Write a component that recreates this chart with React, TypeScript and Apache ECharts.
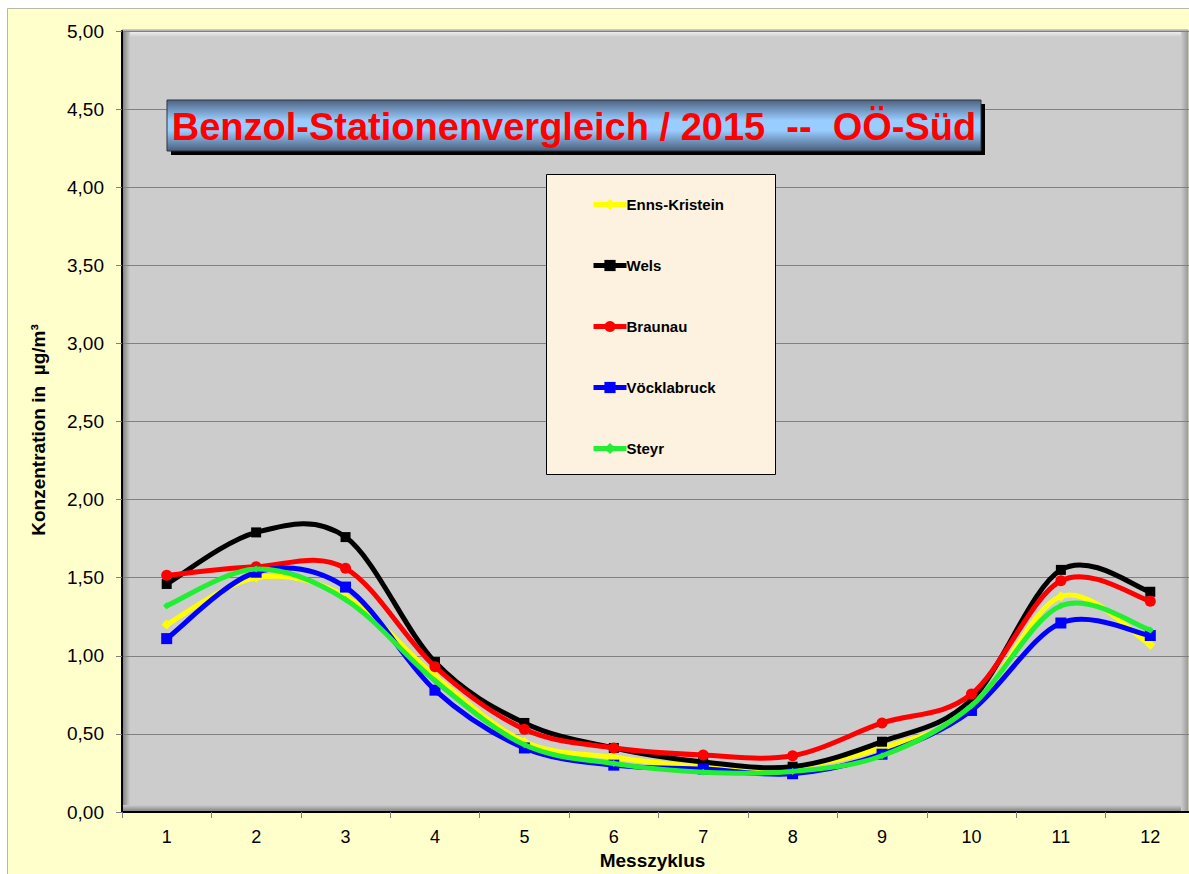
import React, { useEffect, useRef } from "react";
import * as echarts from "echarts";

const categories = ["1", "2", "3", "4", "5", "6", "7", "8", "9", "10", "11", "12"];

const ennsKristein = [1.2, 1.5, 1.38, 0.87, 0.45, 0.35, 0.29, 0.29, 0.41, 0.66, 1.38, 1.07];
const wels = [1.46, 1.79, 1.76, 0.96, 0.57, 0.41, 0.32, 0.29, 0.45, 0.72, 1.55, 1.41];
const braunau = [1.515, 1.57, 1.56, 0.93, 0.53, 0.41, 0.365, 0.36, 0.57, 0.755, 1.48, 1.35];
const voecklabruck = [1.11, 1.535, 1.44, 0.78, 0.41, 0.3, 0.275, 0.245, 0.37, 0.65, 1.21, 1.13];
const steyr = [1.32, 1.555, 1.36, 0.84, 0.43, 0.31, 0.255, 0.26, 0.36, 0.68, 1.32, 1.165];

const seriesNames = ["Enns-Kristein", "Wels", "Braunau", "Vöcklabruck", "Steyr"];
const seriesColors = ["#FFFF00", "#000000", "#FF0000", "#0000FF", "#22EE33"];
const seriesSymbols = ["diamond", "rect", "circle", "rect", "diamond"];
const seriesSymbolSizes = [10, 10, 11, 11, 7];
const seriesWidths = [5, 5, 5, 5, 5];
const seriesData = [ennsKristein, wels, braunau, voecklabruck, steyr];

const titleText = "Benzol-Stationenvergleich / 2015  --  OÖ-Süd";
const yAxisTitle = "Konzentration in  µg/m³";
const xAxisTitle = "Messzyklus";

const FONT = "'Liberation Sans', Arial, Helvetica, sans-serif";

export default function App() {
  const ref = useRef<HTMLDivElement>(null);

  useEffect(() => {
    if (!ref.current) return;
    const chart = echarts.init(ref.current, undefined, { renderer: "svg" });

    const vGrad = (stops: [number, string][]) =>
      new echarts.graphic.LinearGradient(0, 0, 0, 1, stops.map(([offset, color]) => ({ offset, color })));
    const hGrad = (stops: [number, string][]) =>
      new echarts.graphic.LinearGradient(0, 0, 1, 0, stops.map(([offset, color]) => ({ offset, color })));

    // Excel-like spline (control points at 1/6 of neighbour chord), drawn through the axes' scales
    const makeCurveSeries = (s: number) => ({
      name: "__curve_" + s,
      type: "custom",
      silent: true,
      z: 2 + s * 0.1,
      data: seriesData[s].map((v, k) => [k, v]),
      encode: { x: 0, y: 1 },
      renderItem: (params: any, api: any) => {
        if (params.dataIndex !== 0) return null;
        const vals = seriesData[s];
        const n = vals.length;
        const pts = vals.map((v, k) => api.coord([k, v]));
        let d = `M${pts[0][0]},${pts[0][1]}`;
        for (let k = 0; k < n - 1; k++) {
          const p0 = pts[Math.max(k - 1, 0)];
          const p1 = pts[k];
          const p2 = pts[k + 1];
          const p3 = pts[Math.min(k + 2, n - 1)];
          const c1x = p1[0] + (p2[0] - p0[0]) / 6;
          const c1y = p1[1] + (p2[1] - p0[1]) / 6;
          const c2x = p2[0] - (p3[0] - p1[0]) / 6;
          const c2y = p2[1] - (p3[1] - p1[1]) / 6;
          d += ` C${c1x},${c1y} ${c2x},${c2y} ${p2[0]},${p2[1]}`;
        }
        return {
          type: "path",
          shape: { pathData: d },
          style: {
            stroke: seriesColors[s],
            lineWidth: seriesWidths[s],
            fill: "none",
            lineJoin: "round",
            lineCap: "round",
          },
        };
      },
    });

    const markerSeries = (s: number) => ({
      name: seriesNames[s],
      type: "line",
      data: seriesData[s],
      symbol: seriesSymbols[s],
      symbolSize: seriesSymbolSizes[s],
      showSymbol: true,
      lineStyle: { color: seriesColors[s], width: seriesWidths[s], opacity: 0 },
      itemStyle: { color: seriesColors[s], borderColor: seriesColors[s], borderWidth: 0 },
      z: 2.05 + s * 0.1,
      emphasis: { disabled: true },
    });

    const series: any[] = [];
    seriesNames.forEach((_, s) => {
      series.push(makeCurveSeries(s));
      series.push(markerSeries(s));
    });

    const option: any = {
      animation: false,
      textStyle: { fontFamily: FONT },
      grid: {
        left: 122,
        top: 31,
        width: 1073,
        bottom: 62,
        containLabel: false,
        outerBoundsMode: "none",
      },
      legend: {
        show: true,
        orient: "vertical",
        left: 591,
        top: 197,
        itemWidth: 33,
        itemHeight: 14,
        itemGap: 46,
        padding: 0,
        z: 10,
        lineStyle: { width: 5, opacity: 1 },
        textStyle: {
          fontFamily: FONT,
          fontSize: 15,
          fontWeight: "bold",
          color: "#000",
          padding: [0, 0, 0, -5],
        },
        data: seriesNames.map((name, s) => ({
          name,
          lineStyle: { color: seriesColors[s], width: 5, opacity: 1 },
        })),
      },
      xAxis: {
        type: "category",
        data: categories,
        boundaryGap: true,
        name: xAxisTitle,
        nameLocation: "middle",
        nameGap: 36,
        nameTextStyle: {
          fontFamily: FONT,
          fontSize: 19,
          fontWeight: "bold",
          color: "#000",
          padding: [0, 12, 0, 0],
        },
        axisLine: { show: true, lineStyle: { color: "#000", width: 2 } },
        axisTick: { show: true, length: 6, lineStyle: { color: "#808080", width: 1 } },
        axisLabel: { fontFamily: FONT, fontSize: 18, color: "#000", margin: 16 },
        splitLine: { show: false },
      },
      yAxis: {
        type: "value",
        min: 0,
        max: 5,
        interval: 0.5,
        axisLine: { show: true, lineStyle: { color: "#000", width: 2 } },
        axisTick: { show: true, length: 6, lineStyle: { color: "#808080", width: 1 } },
        axisLabel: {
          fontFamily: FONT,
          fontSize: 19,
          color: "#000",
          margin: 18,
          formatter: (v: number) => v.toFixed(2).replace(".", ","),
        },
        splitLine: { show: true, lineStyle: { color: "#808080", width: 1 } },
      },
      graphic: [
        {
          type: "rect",
          z: -3,
          shape: { x: 7.5, y: 8.5, width: 1300, height: 1000 },
          style: { fill: "#FFFFCC", stroke: "#B8B8A8", lineWidth: 1 },
        },
        {
          type: "rect",
          z: -2,
          shape: { x: 122, y: 30, width: 1066, height: 782 },
          style: { fill: "#CCCCCC", stroke: "#9A9A9A", lineWidth: 1 },
        },
        {
          type: "rect",
          z: -1,
          shape: { x: 123, y: 31, width: 1064, height: 6 },
          style: { fill: vGrad([[0, "#F4F4F4"], [1, "#CCCCCC"]]) },
        },
        {
          type: "rect",
          z: -1,
          shape: { x: 122, y: 31, width: 8, height: 781 },
          style: { fill: hGrad([[0, "#7A7A7A"], [1, "#CCCCCC"]]) },
        },
        {
          type: "rect",
          z: -1,
          shape: { x: 122, y: 805, width: 1066, height: 7 },
          style: { fill: vGrad([[0, "#CCCCCC"], [1, "#7A7A7A"]]) },
        },
        {
          type: "rect",
          z: -1,
          shape: { x: 1181, y: 31, width: 7, height: 781 },
          style: { fill: hGrad([[0, "#CCCCCC"], [1, "#9A9A9A"]]) },
        },
        {
          type: "rect",
          z: 5,
          shape: { x: 171, y: 104, width: 814, height: 51 },
          style: { fill: "#000000" },
        },
        {
          type: "rect",
          z: 6,
          shape: { x: 167, y: 100, width: 814, height: 51 },
          style: {
            fill: vGrad([
              [0, "#4E6380"],
              [0.4, "#99CCFF"],
              [0.6, "#99CCFF"],
              [1, "#4A5E7A"],
            ]),
            stroke: "#2A3444",
            lineWidth: 1,
          },
        },
        {
          type: "text",
          z: 7,
          x: 574,
          y: 127,
          style: {
            text: titleText,
            fill: "#FF0000",
            font: `bold 38px ${FONT}`,
            align: "center",
            verticalAlign: "middle",
          },
        },
        {
          type: "rect",
          z: 6,
          shape: { x: 546.5, y: 174.5, width: 229, height: 300 },
          style: { fill: "#FCF2DF", stroke: "#000000", lineWidth: 1 },
        },
        {
          type: "text",
          z: 7,
          x: 38,
          y: 430,
          rotation: Math.PI / 2,
          style: {
            text: yAxisTitle,
            fill: "#000",
            font: `bold 19px ${FONT}`,
            align: "center",
            verticalAlign: "middle",
          },
        },
      ],
      series,
    };

    chart.setOption(option);
    return () => chart.dispose();
  }, []);

  return (
    <div
      ref={ref}
      style={{ position: "absolute", left: 0, top: 0, width: 1189, height: 874, background: "#FFFFFF" }}
    />
  );
}
